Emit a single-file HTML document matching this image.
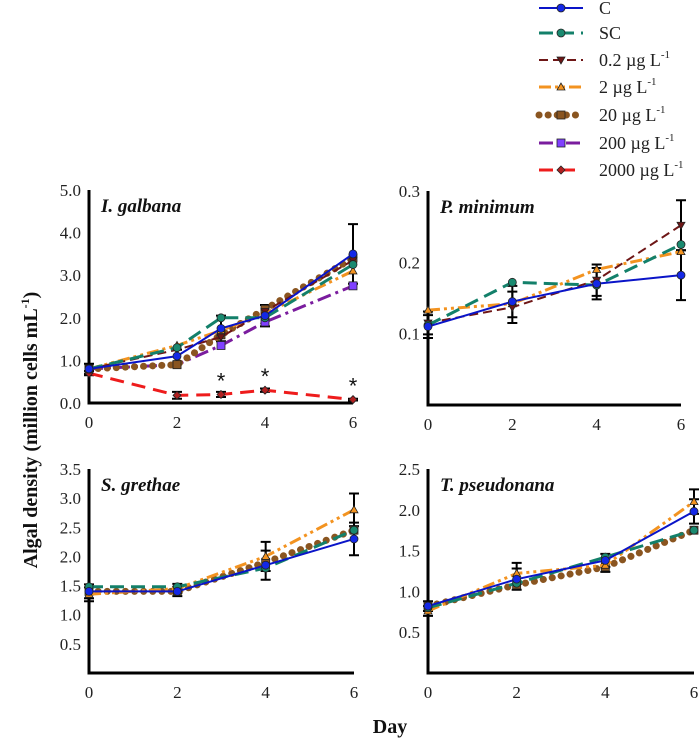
<!DOCTYPE html>
<html><head><meta charset="utf-8"><style>
html,body{margin:0;padding:0;background:#fff;overflow:hidden;}
svg{display:block;font-family:"Liberation Serif",serif;}
</style></head><body>
<svg id="chart" width="700" height="740" viewBox="0 0 700 740"></svg>
<script>
const seriesNames = ["C","SC","0.2 µg L-1","2 µg L-1","20 µg L-1","200 µg L-1","2000 µg L-1"];
// Panel 1: I. galbana
const p1Days = [0,2,3,4,6];
const p1C    = [0.8,1.1,1.75,2.05,3.5];
const p1SC   = [0.8,1.3,2.0,2.0,3.25];
const p1D02  = [0.8,1.25,1.55,2.15,3.35];
const p1D2   = [0.8,1.35,1.7,2.1,3.1];
const p1D20  = [0.8,0.9,1.6,2.2,3.4];
const p1D200 = [0.8,0.9,1.35,1.9,2.75];
const p1D2000= [0.7,0.18,0.2,0.3,0.08];
const p1Err  = [0.12,0.15,0.3,0.25,0.7];
const p1ErrT = [0.05,0.08,0.06,0.04,0.02];
const p1Ticks = [0,1,2,3,4,5];
// Panel 2: P. minimum
const p2Days = [0,2,4,6];
const p2C   = [0.11,0.145,0.17,0.182];
const p2SC  = [0.112,0.172,0.168,0.225];
const p2D02 = [0.115,0.137,0.175,0.252];
const p2D2  = [0.133,0.142,0.19,0.215];
const p2Err = [0.016,0.022,0.022,0.035];
const p2Ticks = [0.1,0.2,0.3];
// Panel 3: S. grethae
const p3Days = [0,2,4,6];
const p3C   = [1.4,1.4,1.85,2.3];
const p3SC  = [1.48,1.48,1.8,2.45];
const p3D2  = [1.35,1.45,2.0,2.8];
const p3D20 = [1.4,1.4,1.9,2.45];
const p3Err = [0.12,0.08,0.25,0.28];
const p3Ticks = [0.5,1.0,1.5,2.0,2.5,3.0,3.5];
// Panel 4: T. pseudonana
const p4Days = [0,2,4,6];
const p4C   = [0.82,1.15,1.38,1.98];
const p4SC  = [0.8,1.1,1.42,1.75];
const p4D2  = [0.76,1.22,1.32,2.1];
const p4D20 = [0.82,1.08,1.3,1.75];
const p4Err = [0.06,0.13,0.08,0.15];
const p4Ticks = [0.5,1.0,1.5,2.0,2.5];

const NS="http://www.w3.org/2000/svg";
const svg=document.getElementById('chart');
function el(tag,attrs,parent){const e=document.createElementNS(NS,tag);for(const k in attrs)e.setAttribute(k,attrs[k]);(parent||svg).appendChild(e);return e;}

const styles={
 C:{stroke:"#0a14c8",dash:"",w:2,marker:"circle",fill:"#1428e6"},
 SC:{stroke:"#13806a",dash:"14,7",w:3,marker:"circle",fill:"#1a8a70"},
 D02:{stroke:"#6e1616",dash:"9,5",w:2,marker:"tri-down",fill:"#6e1616"},
 D2:{stroke:"#f39320",dash:"12,4,3,4,3,4",w:3,marker:"tri",fill:"#f39320"},
 D20:{stroke:"#8a5520",dash:"0.1,9",w:7,cap:"round",marker:"square",fill:"#8a5520"},
 D200:{stroke:"#7a1c9e",dash:"14,5,3,5",w:3,marker:"square",fill:"#8040ff"},
 D2000:{stroke:"#ee1c1c",dash:"14,8",w:3,marker:"diamond",fill:"#b02020"}
};

function marker(g,type,x,y,fill){
 const r=4;
 if(type==="circle") return el('circle',{cx:x,cy:y,r:r,fill:fill,stroke:"#222","stroke-width":0.8},g);
 if(type==="square") return el('rect',{x:x-r,y:y-r,width:2*r,height:2*r,fill:fill,stroke:"#222","stroke-width":0.8},g);
 if(type==="tri") return el('polygon',{points:`${x},${y-r} ${x-r},${y+3} ${x+r},${y+3}`,fill:fill,stroke:"#222","stroke-width":0.8},g);
 if(type==="tri-down") return el('polygon',{points:`${x},${y+r} ${x-r},${y-3} ${x+r},${y-3}`,fill:fill,stroke:"#222","stroke-width":0.8},g);
 return el('polygon',{points:`${x},${y-r} ${x+r},${y} ${x},${y+r} ${x-r},${y}`,fill:fill,stroke:"#222","stroke-width":0.8},g);
}

function panel(cfg){
 const {name,title,x0,x1,yTop,yBot,vmax,days,series,err,ticks,tickFmt}=cfg;
 const g=el('g',{});
 
 
 const xs=d=>x0+(x1-x0)*d/6;
 const ys=v=>yBot-(yBot-yTop)*v/vmax;
 const ax=el('path',{d:`M${x0},${yTop} V${yBot} H${x1}`,stroke:"#000","stroke-width":3,fill:"none"},g);
 
 
 ticks.forEach(t=>{
  const tx=el('text',{x:x0-8,y:ys(t)+6,"text-anchor":"end","font-size":17,fill:"#222"},g);
  tx.textContent=t.toFixed(tickFmt);
  
  
 });
 [0,2,4,6].forEach(d=>{
  const tx=el('text',{x:xs(d),y:yBot+25,"text-anchor":"middle","font-size":17,fill:"#222"},g);
  tx.textContent=d;
  
  
 });
 const tt=el('text',{x:x0+12,y:yTop+22,"font-size":19,"font-weight":"bold","font-style":"italic",fill:"#111"},g);
 tt.textContent=title;
 
 
 series.forEach(s=>{
  if(!s.eb) return;
  const ee=s.err||err;
  days.forEach((d,i)=>{
   const x=xs(d),a=ys(s.vals[i]+ee[i]),b=ys(Math.max(0,s.vals[i]-ee[i]));
   const e=el('path',{d:`M${x},${a}V${b}M${x-5},${a}H${x+5}M${x-5},${b}H${x+5}`,stroke:"#000","stroke-width":2,fill:"none"},g);
   
   
  });
 });
 series.forEach(s=>{
  const st=styles[s.key];
  const pts=days.map((d,i)=>xs(d)+","+ys(s.vals[i])).join(" ");
  const l=el('polyline',{points:pts,fill:"none",stroke:st.stroke,"stroke-width":st.w,"stroke-dasharray":st.dash,"stroke-linecap":st.cap||"butt"},g);
  
  
  days.forEach((d,i)=>{
   const m=marker(g,st.marker,xs(d),ys(s.vals[i]),st.fill);
   
   
  });
 });
 return {xs,ys,g};
}

const P1=panel({name:"panel-i-galbana",title:"I. galbana",x0:89,x1:353,yTop:190,yBot:403,vmax:5,days:p1Days,err:p1Err,ticks:p1Ticks,tickFmt:1,
 series:[{key:"D2000",vals:p1D2000,eb:true,err:p1ErrT},{key:"D200",vals:p1D200},{key:"D20",vals:p1D20},{key:"D2",vals:p1D2},{key:"D02",vals:p1D02},{key:"SC",vals:p1SC},{key:"C",vals:p1C,eb:true}]});
[2,3,4].forEach(i=>{
 const s=el('text',{x:P1.xs(p1Days[i]),y:P1.ys(p1D2000[i])-6,"text-anchor":"middle","font-size":22,"font-family":"Liberation Sans, sans-serif",fill:"#111"});
 s.textContent="*";
 
 
});
panel({name:"panel-p-minimum",title:"P. minimum",x0:428,x1:681,yTop:191,yBot:405,vmax:0.3,days:p2Days,err:p2Err,ticks:p2Ticks,tickFmt:1,
 series:[{key:"D2",vals:p2D2},{key:"D02",vals:p2D02,eb:true},{key:"SC",vals:p2SC},{key:"C",vals:p2C,eb:true}]});
panel({name:"panel-s-grethae",title:"S. grethae",x0:89,x1:354,yTop:469,yBot:673,vmax:3.5,days:p3Days,err:p3Err,ticks:p3Ticks,tickFmt:1,
 series:[{key:"D20",vals:p3D20},{key:"D2",vals:p3D2,eb:true},{key:"SC",vals:p3SC},{key:"C",vals:p3C,eb:true}]});
panel({name:"panel-t-pseudonana",title:"T. pseudonana",x0:428,x1:694,yTop:469,yBot:673,vmax:2.5,days:p4Days,err:p4Err,ticks:p4Ticks,tickFmt:1,
 series:[{key:"D20",vals:p4D20},{key:"D2",vals:p4D2,eb:true},{key:"SC",vals:p4SC},{key:"C",vals:p4C,eb:true}]});

const keys=["C","SC","D02","D2","D20","D200","D2000"];
const rowsY=[8,33,60,87,115,143,170];
keys.forEach((k,i)=>{
 const st=styles[k];const y=rowsY[i];
 const g=el('g',{});
 
 
 el('line',{x1:539,y1:y,x2:583,y2:y,stroke:st.stroke,"stroke-width":st.w,"stroke-dasharray":st.dash,"stroke-linecap":st.cap||"butt"},g);
 marker(g,st.marker,561,y,st.fill);
 const t=el('text',{x:599,y:y+6,"font-size":18,fill:"#222"},g);
 const nm=seriesNames[i];
 if(nm.endsWith("L-1")){
  t.textContent=nm.slice(0,-2);
  const sup=el('tspan',{dy:-8,"font-size":11},t);sup.textContent="-1";
 } else t.textContent=nm;
});

const yt=el('text',{x:0,y:0,transform:"translate(37,430) rotate(-90)","text-anchor":"middle","font-size":20,"font-weight":"bold",fill:"#111"});


yt.textContent="Algal density (million cells mL";
const ys1=el('tspan',{dy:-8,"font-size":12},yt);ys1.textContent="-1";
const ys2=el('tspan',{dy:8},yt);ys2.textContent=")";
const xt=el('text',{x:390,y:733,"text-anchor":"middle","font-size":20,"font-weight":"bold",fill:"#111"});


xt.textContent="Day";
</script>
</body></html>
